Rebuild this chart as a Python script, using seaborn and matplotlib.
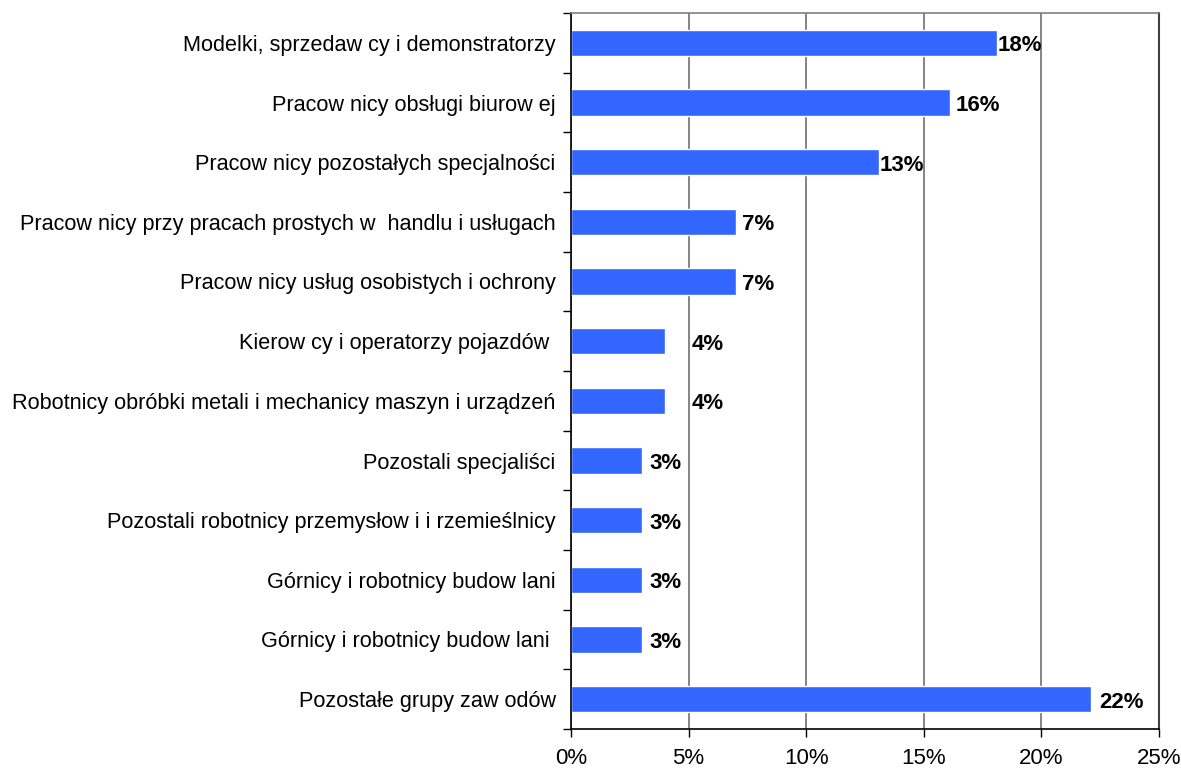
import matplotlib
matplotlib.use("Agg")
import matplotlib.pyplot as plt
import seaborn as sns
import pandas as pd
from matplotlib.ticker import FuncFormatter, MultipleLocator

categories = [
    "Modelki, sprzedaw cy i demonstratorzy",
    "Pracow nicy obsługi biurow ej",
    "Pracow nicy pozostałych specjalności",
    "Pracow nicy przy pracach prostych w  handlu i usługach",
    "Pracow nicy usług osobistych i ochrony",
    "Kierow cy i operatorzy pojazdów ",
    "Robotnicy obróbki metali i mechanicy maszyn i urządzeń",
    "Pozostali specjaliści",
    "Pozostali robotnicy przemysłow i i rzemieślnicy",
    "Górnicy i robotnicy budow lani",
    "Górnicy i robotnicy budow lani ",
    "Pozostałe grupy zaw odów",
]
values = [18.1, 16.1, 13.1, 7.0, 7.0, 4.0, 4.0, 3.0, 3.0, 3.0, 3.0, 22.1]
value_labels = ["18%", "16%", "13%", "7%", "7%", "4%", "4%", "3%", "3%", "3%", "3%", "22%"]
label_pad = [1, 6, 1, 6, 6, 27, 27, 8, 8, 8, 8, 8]

df = pd.DataFrame({"cat": categories, "val": values})

sns.set_style("white")
plt.rcParams["font.family"] = ["Liberation Sans", "DejaVu Sans"]
plt.rcParams["text.color"] = "black"
plt.rcParams["xtick.color"] = "black"
plt.rcParams["ytick.color"] = "black"

FS = 16
FS_CAT = 15.6

fig = plt.figure(figsize=(11.81, 7.69), dpi=100)
ax = fig.add_axes([571 / 1181, 1 - 729 / 769, (1159 - 571) / 1181, (729 - 13) / 769])

sns.barplot(data=df, x="val", y="cat", orient="h", color="#3366FF",
            saturation=1, width=0.44, ax=ax, zorder=3)

ax.set_xlim(0, 25)
ax.set_ylim(len(categories) - 0.5, -0.5)
ax.xaxis.set_major_locator(MultipleLocator(5))
ax.xaxis.set_major_formatter(FuncFormatter(lambda v, p: f"{v:.0f}%"))
ax.grid(axis="x", color="#707070", linewidth=1.2, zorder=0)
ax.grid(axis="y", visible=False)

ax.set_yticks([i + 0.5 for i in range(-1, len(categories))], minor=True)
ax.set_yticks(range(len(categories)))
ax.set_yticklabels(categories, fontsize=FS_CAT, color="black")
ax.tick_params(axis="y", which="major", length=0, pad=11)
ax.tick_params(axis="y", which="minor", length=6, width=1, color="black", direction="out")
ax.tick_params(axis="x", length=6, width=1, color="black", direction="out",
               labelsize=FS, labelcolor="black", pad=8)
ax.tick_params(axis="x", which="both", bottom=True)
ax.tick_params(axis="y", which="both", left=True)

ax.set_xlabel("")
ax.set_ylabel("")

for s in ["left", "bottom"]:
    ax.spines[s].set_color("black")
    ax.spines[s].set_linewidth(1.2)
ax.spines["top"].set_color("#808080")
ax.spines["top"].set_linewidth(1.2)
ax.spines["right"].set_color("#404040")
ax.spines["right"].set_linewidth(1.5)
for s in ax.spines.values():
    s.set_zorder(4)

for i, (v, lab) in enumerate(zip(values, value_labels)):
    ax.annotate(lab, (v, i), xytext=(label_pad[i], -3), textcoords="offset pixels",
                ha="left", va="center", fontsize=FS, fontweight="bold",
                color="black", zorder=5)

fig.savefig("out.png", dpi=100)
